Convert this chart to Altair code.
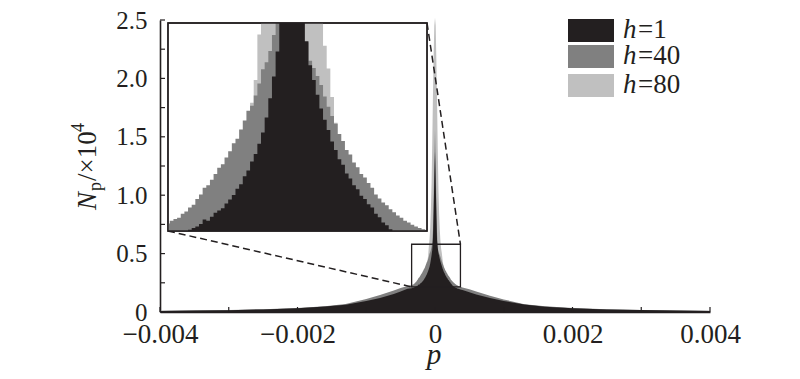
import altair as alt
import pandas as pd

# ---------------- data (p in units of 1e-3, N in units of 1e4) ----------------
series_names = ["h=1", "h=40", "h=80"]
series_colors = ["#231f20", "#808080", "#c0c0c0"]

p_left = [-4.0, -3.5, -3.0, -2.5, -2.0, -1.6, -1.3, -1.0, -0.8, -0.6, -0.5, -0.4]
p_right = [0.4, 0.5, 0.6, 0.8, 1.0, 1.3, 1.6, 2.0, 2.5, 3.0, 3.5, 4.0]
# histogram bin centres of the central (zoomed) region
p_center = [-0.34, -0.33, -0.32, -0.31, -0.30, -0.29, -0.28, -0.27, -0.26, -0.25,
            -0.24, -0.23, -0.22, -0.21, -0.20, -0.19, -0.18, -0.17, -0.16, -0.15,
            -0.14, -0.13, -0.12, -0.11, -0.10, -0.09, -0.08, -0.07, -0.06, -0.05,
            -0.04, -0.03, -0.02, -0.01, 0.00, 0.01, 0.02, 0.03, 0.04, 0.05,
            0.06, 0.07, 0.08, 0.09, 0.10, 0.11, 0.12, 0.13, 0.14, 0.15,
            0.16, 0.17, 0.18, 0.19, 0.20, 0.21, 0.22, 0.23, 0.24, 0.25,
            0.26, 0.27, 0.28, 0.29, 0.30, 0.31, 0.32, 0.33, 0.34, 0.35,
            0.36, 0.37, 0.38]

h1_left = [0.009, 0.012, 0.016, 0.022, 0.032, 0.047, 0.062, 0.095, 0.120, 0.155, 0.176, 0.198]
h1_center = [0.203, 0.205, 0.207, 0.208, 0.212, 0.214, 0.217, 0.220, 0.223, 0.227,
             0.235, 0.233, 0.240, 0.247, 0.251, 0.255, 0.263, 0.270, 0.278, 0.289,
             0.297, 0.311, 0.321, 0.337, 0.350, 0.368, 0.388, 0.414, 0.448, 0.486,
             0.530, 0.620, 0.850, 1.150, 1.370, 1.120, 0.830, 0.610, 0.548, 0.506,
             0.480, 0.454, 0.430, 0.410, 0.392, 0.372, 0.357, 0.341, 0.331, 0.316,
             0.307, 0.295, 0.288, 0.277, 0.271, 0.262, 0.256, 0.245, 0.239, 0.230,
             0.225, 0.218, 0.214, 0.211, 0.208, 0.205, 0.203, 0.200, 0.198, 0.196,
             0.194, 0.192, 0.190]
h1_right = [0.188, 0.170, 0.150, 0.120, 0.094, 0.064, 0.046, 0.032, 0.022, 0.017, 0.012, 0.009]

h40_left = [0.010, 0.013, 0.017, 0.023, 0.034, 0.050, 0.068, 0.112, 0.145, 0.185, 0.205, 0.222]
h40_center = [0.228, 0.233, 0.236, 0.238, 0.245, 0.249, 0.256, 0.261, 0.271, 0.279,
              0.291, 0.295, 0.305, 0.315, 0.326, 0.332, 0.344, 0.355, 0.369, 0.377,
              0.393, 0.409, 0.426, 0.435, 0.453, 0.474, 0.499, 0.511, 0.531, 0.559,
              0.600, 0.700, 0.950, 1.300, 1.560, 1.280, 0.920, 0.680, 0.546, 0.514,
              0.501, 0.487, 0.471, 0.451, 0.433, 0.417, 0.403, 0.385, 0.373, 0.357,
              0.349, 0.335, 0.327, 0.315, 0.309, 0.299, 0.291, 0.279, 0.272, 0.265,
              0.260, 0.253, 0.248, 0.242, 0.238, 0.233, 0.230, 0.226, 0.223, 0.220,
              0.218, 0.215, 0.213]
h40_right = [0.210, 0.194, 0.176, 0.140, 0.108, 0.066, 0.049, 0.034, 0.023, 0.017, 0.013, 0.010]

h80_left = [0.009, 0.012, 0.016, 0.022, 0.032, 0.047, 0.063, 0.098, 0.125, 0.162, 0.182, 0.200]
h80_center = [0.206, 0.208, 0.210, 0.213, 0.216, 0.219, 0.222, 0.226, 0.230, 0.235,
              0.240, 0.245, 0.250, 0.256, 0.262, 0.269, 0.276, 0.285, 0.295, 0.307,
              0.320, 0.350, 0.400, 0.440, 0.480, 0.560, 0.620, 0.720, 0.880, 1.100,
              1.450, 1.850, 2.200, 2.450, 2.520, 2.450, 2.150, 1.800, 1.400, 1.050,
              0.840, 0.700, 0.600, 0.540, 0.500, 0.450, 0.405, 0.350, 0.330, 0.312,
              0.300, 0.290, 0.280, 0.272, 0.264, 0.258, 0.252, 0.247, 0.242, 0.237,
              0.232, 0.228, 0.224, 0.220, 0.217, 0.214, 0.211, 0.208, 0.205, 0.202,
              0.200, 0.198, 0.196]
h80_right = [0.194, 0.176, 0.156, 0.122, 0.096, 0.064, 0.047, 0.032, 0.022, 0.016, 0.012, 0.009]

x_ticks = [-0.004, -0.003, -0.002, -0.001, 0.0, 0.001, 0.002, 0.003, 0.004]
y_ticks = [0, 0.25, 0.5, 0.75, 1.0, 1.25, 1.5, 1.75, 2.0, 2.25, 2.5]

# zoomed region (main data units) and inset placement (main data units)
RECT_X = [-0.00034, 0.00037]
RECT_Y = [0.215, 0.58]
INSET_X = [-0.003884, -0.000116]
INSET_Y = [0.694, 2.474]

# ---------------- layout ----------------
W, H = 550, 292
X_DOM = [-0.004, 0.004]
Y_DOM = [0, 2.5]
FONT = "Liberation Serif"
INK = "#231f20"
TICK = 5


def xpx(v):
    return (v - X_DOM[0]) / (X_DOM[1] - X_DOM[0]) * W


def ypx(v):
    return H - (v - Y_DOM[0]) / (Y_DOM[1] - Y_DOM[0]) * H


series = {
    "h=1": (h1_left, h1_center, h1_right),
    "h=40": (h40_left, h40_center, h40_right),
    "h=80": (h80_left, h80_center, h80_right),
}

main_frames, inset_frames = {}, {}
for name, (lv, cv, rv) in series.items():
    main_frames[name] = pd.DataFrame({"p": [p * 1e-3 for p in p_left + p_center + p_right],
                                      "N": lv + cv + rv})
    inset_frames[name] = pd.DataFrame({"p": [p * 1e-3 for p in p_center], "N": cv})

xs = alt.Scale(domain=X_DOM, nice=False, zero=False)
ys = alt.Scale(domain=Y_DOM, nice=False)

x_axis = alt.Axis(
    values=x_ticks, title=None, grid=False, ticks=False,
    labelExpr="round(datum.value*1000) % 2 != 0 ? '' : (datum.value == 0 ? '0' : replace(format(datum.value, '.3f'), '-', '\u2212'))",
    labelFont=FONT, labelFontSize=27, labelColor=INK, labelPadding=9,
    labelOverlap=False, labelFlush=False, labelBound=False,
    domainColor=INK, domainWidth=1.6,
)
y_axis = alt.Axis(
    values=y_ticks, title=None, grid=False, ticks=False,
    labelExpr="round(datum.value*4) % 2 != 0 ? '' : (datum.value == 0 ? '0' : format(datum.value, '.1f'))",
    labelFont=FONT, labelFontSize=25, labelColor=INK, labelPadding=13,
    labelOverlap=False, labelFlush=False, labelBound=False,
    domainColor=INK, domainWidth=1.6,
)

layers = []
for i, (name, col) in enumerate(zip(series_names[::-1], series_colors[::-1])):
    layers.append(
        alt.Chart(main_frames[name])
        .mark_area(color=col, interpolate="linear", clip=False)
        .encode(
            x=alt.X("p:Q", scale=xs, axis=x_axis if i == 0 else None),
            y=alt.Y("N:Q", scale=ys, axis=y_axis if i == 0 else None),
        )
    )

# inward-pointing ticks
layers.append(
    alt.Chart(pd.DataFrame({"v": x_ticks})).mark_rule(color=INK, strokeWidth=1.2).encode(
        x=alt.X("v:Q", scale=xs, axis=None), y=alt.value(H), y2=alt.value(H - TICK))
)
layers.append(
    alt.Chart(pd.DataFrame({"v": y_ticks})).mark_rule(color=INK, strokeWidth=1.2).encode(
        y=alt.Y("v:Q", scale=ys, axis=None), x=alt.value(0), x2=alt.value(TICK))
)

rect_df = pd.DataFrame({"x": [RECT_X[0]], "x2": [RECT_X[1]], "y": [RECT_Y[0]], "y2": [RECT_Y[1]]})
layers.append(alt.Chart(rect_df).mark_rect(fillOpacity=0, stroke=INK, strokeWidth=1.3).encode(
    x=alt.X("x:Q", scale=xs, axis=None), x2="x2:Q", y=alt.Y("y:Q", scale=ys, axis=None), y2="y2:Q"
))

dash_df = pd.DataFrame({
    "x": [INSET_X[0], INSET_X[1]], "y": [INSET_Y[0], INSET_Y[1]],
    "x2": [RECT_X[0], RECT_X[1]], "y2": [RECT_Y[0], RECT_Y[1]],
})
layers.append(alt.Chart(dash_df).mark_rule(color=INK, strokeWidth=1.5, strokeDash=[7, 4]).encode(
    x=alt.X("x:Q", scale=xs, axis=None), x2="x2:Q", y=alt.Y("y:Q", scale=ys, axis=None), y2="y2:Q"
))

# legend (manual, to get italic h)
sw_tops = [-1, 25, 54]
for name, col, top in zip(series_names, series_colors, sw_tops):
    one = alt.Chart(pd.DataFrame({"h": ["h"], "rest": [name[1:]]}))
    layers.append(one.mark_rect(color=col).encode(
        x=alt.value(408), x2=alt.value(454), y=alt.value(top), y2=alt.value(top + 23)))
    layers.append(one.mark_text(font=FONT, fontSize=27, fontStyle="italic", align="left",
                                baseline="alphabetic", color=INK).encode(
        text="h:N", x=alt.value(463), y=alt.value(top + 19)))
    layers.append(one.mark_text(font=FONT, fontSize=27, align="left",
                                baseline="alphabetic", color=INK).encode(
        text="rest:N", x=alt.value(478), y=alt.value(top + 19)))


def txt(s, x, y, size, style="normal", angle=0):
    kw = dict(font=FONT, fontSize=size, fontStyle=style, baseline="alphabetic", color=INK)
    if angle:
        kw["angle"] = angle
        kw["align"] = "left"
    else:
        kw["align"] = "center"
    return alt.Chart(pd.DataFrame({"t": [s]})).mark_text(**kw).encode(
        text="t:N", x=alt.value(x), y=alt.value(y))


layers += [
    txt("N", -64, 190, 27, "italic", 270),
    txt("p", -59, 171, 18, "normal", 270),
    txt("/\u00d710", -64, 161, 27, "normal", 270),
    txt("4", -76, 112, 18, "normal", 270),
    txt("p", W / 2 - 1, 344, 29, "italic"),
]

# ---------------- inset ----------------
ixs = alt.Scale(domain=RECT_X, range=[xpx(INSET_X[0]), xpx(INSET_X[1])], clamp=True, nice=False, zero=False)
iys = alt.Scale(domain=RECT_Y, range=[ypx(INSET_Y[0]), ypx(INSET_Y[1])], clamp=True, nice=False, zero=False)

layers.append(alt.Chart(rect_df).mark_rect(fill="white", stroke=INK, strokeWidth=1.4).encode(
    x=alt.X("x:Q", scale=ixs, axis=None), x2="x2:Q", y=alt.Y("y:Q", scale=iys, axis=None), y2="y2:Q"
))
for name, col in zip(series_names[::-1], series_colors[::-1]):
    layers.append(
        alt.Chart(inset_frames[name])
        .mark_area(color=col, interpolate="step")
        .encode(
            x=alt.X("p:Q", scale=ixs, axis=None),
            y=alt.Y("N:Q", scale=iys, axis=None),
            y2=alt.datum(RECT_Y[0]),
        )
    )
layers.append(alt.Chart(rect_df).mark_rect(fillOpacity=0, stroke=INK, strokeWidth=1.4).encode(
    x=alt.X("x:Q", scale=ixs, axis=None), x2="x2:Q", y=alt.Y("y:Q", scale=iys, axis=None), y2="y2:Q"
))

chart = (
    alt.layer(*layers)
    .resolve_scale(x="independent", y="independent")
    .properties(
        width=W, height=H,
        padding={"left": 152, "top": 12, "right": 70, "bottom": 60},
        autosize=alt.AutoSizeParams(type="none"),
    )
    .configure_view(strokeWidth=0, stroke="transparent")
)

chart.save("out.html", embed_options={"renderer": "svg", "actions": False})
